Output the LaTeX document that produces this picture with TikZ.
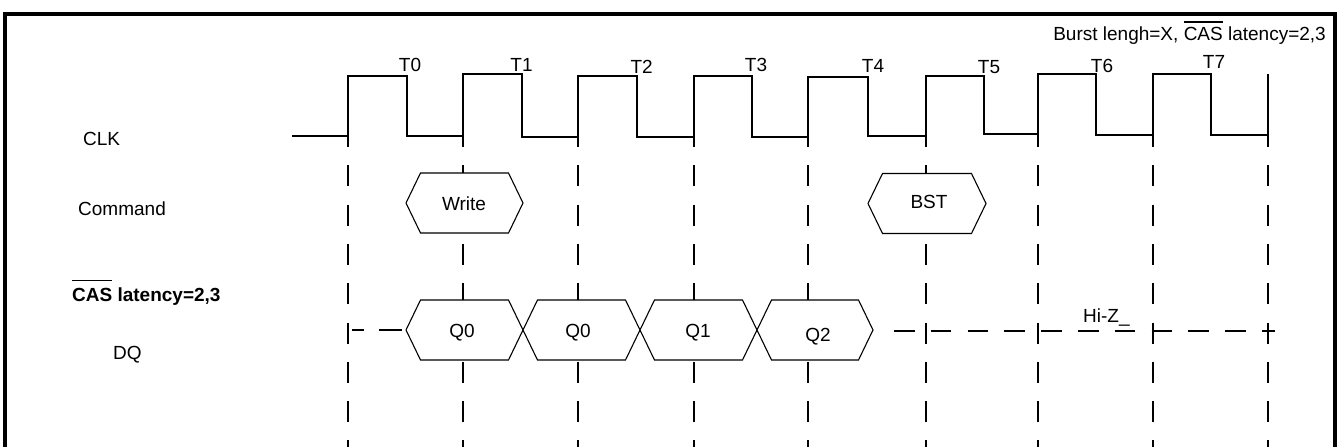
\documentclass[tikz,border=0pt]{standalone}
\usepackage{fontspec}
\setmainfont{Liberation Sans}
\newcommand{\ovl}[2]{\setbox0=\hbox{#2}\rlap{\rule[#1]{\wd0}{1.4pt}}\box0\relax}
\newcommand{\hexagonat}[3]{%
  \filldraw[hexa] ({#1-#3},#2) -- ({#1-#3+14.5},{#2-30}) -- ({#1+#3-14.5},{#2-30}) -- ({#1+#3},#2) -- ({#1+#3-14.5},{#2+30}) -- ({#1-#3+14.5},{#2+30}) -- cycle;}
\begin{document}
\begin{tikzpicture}[x=1pt,y=-1pt,
  every node/.style={font=\fontsize{19}{21}\selectfont, inner sep=0pt},
  lbl/.style={anchor=base west},
  tlbl/.style={anchor=base},
  frame/.style={line width=3.4pt},
  clk/.style={line width=2.6pt, line join=miter},
  vdash/.style={line width=2.5pt, dash pattern=on 21pt off 18.3pt},
  hdash/.style={line width=2.5pt},
  hexa/.style={line width=1.1pt, fill=white, draw=black, line join=miter}]
\useasboundingbox (0,0) rectangle (1339,447);
% frame
\draw[frame] (5,447) -- (5,14) -- (1335,14) -- (1335,447);
% clock
\draw[clk] (292,136) -- (348,136) -- (348,76) -- (407,76) -- (407,136) -- (463,136) -- (463,74) -- (522,74) -- (522,137) -- (578,137) -- (578,76) -- (637,76) -- (637,137) -- (694,137) -- (694,76) -- (752,76) -- (752,137) -- (808,137) -- (808,77) -- (868,77) -- (868,136) -- (926,136) -- (926,76) -- (984,76) -- (984,134) -- (1038,134) -- (1038,74) -- (1096,74) -- (1096,135) -- (1153,135) -- (1153,74) -- (1211,74) -- (1211,135) -- (1268,135) -- (1268,74);
% vertical dashed lines
\foreach \x in {348,463,578,694,808,926,1038,1153,1268}
  \draw[vdash] (\x,126) -- (\x,447);
% DQ high-Z dashed lines
\draw[hdash, dash pattern=on 12pt off 15pt on 23pt off 20pt] (352,330) -- (406,330);
\draw[hdash, dash pattern=on 20.5pt off 16.3pt] (894,331) -- (1275,331);
% command hexagons
\hexagonat{464.5}{203}{58.5}
\hexagonat{927}{203.5}{59}
% DQ hexagons
\hexagonat{464.5}{330}{58.5}
\hexagonat{581.5}{330}{58.5}
\hexagonat{698.5}{330}{58.5}
\hexagonat{815}{330}{58}
% texts
\node[anchor=base east] (burst) at (1326,40) {Burst lengh=X, \ovl{0.92em}{CAS} latency=2,3};
\node[lbl] (clk) at (83,145) {CLK};
\node[lbl] (cmd) at (78,215) {Command};
\node[lbl] (cas) at (72,301) {\bfseries\ovl{1.05em}{CAS} latency=2,3};
\node[lbl] (dq) at (113,359) {DQ};
\node[tlbl] (t0) at (410,71) {T0};
\node[tlbl] (t1) at (521.5,71) {T1};
\node[tlbl] (t2) at (641.7,73) {T2};
\node[tlbl] (t3) at (756,71) {T3};
\node[tlbl] (t4) at (873,72.7) {T4};
\node[tlbl] (t5) at (989,73) {T5};
\node[tlbl] (t6) at (1102,72.7) {T6};
\node[tlbl] (t7) at (1214,68) {T7};
\node[tlbl] (write) at (464,210) {Write};
\node[tlbl] (bst) at (929,208.5) {BST};
\node[tlbl] (q0a) at (462,337.5) {Q0};
\node[tlbl] (q0b) at (578,337.5) {Q0};
\node[tlbl] (q1) at (698,337.5) {Q1};
\node[tlbl] (q2) at (818,341) {Q2};
\node[lbl] (hiz) at (1083,322) {Hi-Z\_};
\end{tikzpicture}
\end{document}
